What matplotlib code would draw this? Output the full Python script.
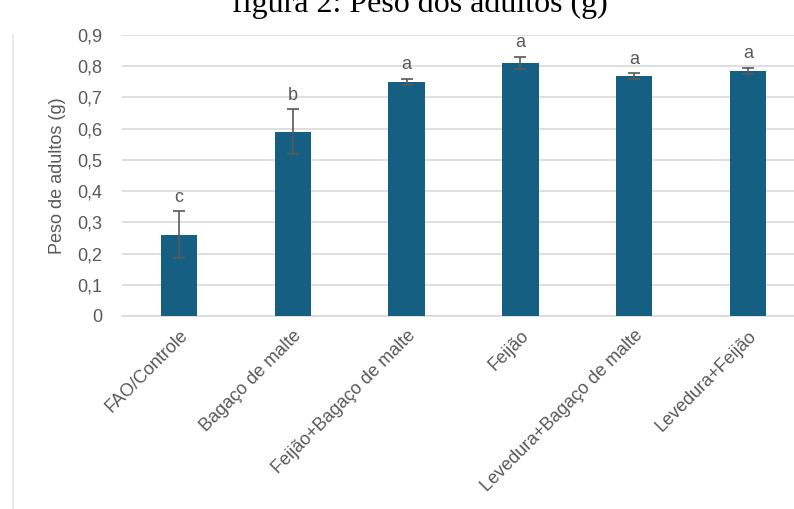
import matplotlib.pyplot as plt
from matplotlib.lines import Line2D

tratamentos = [
    "FAO/Controle",
    "Bagaço de malte",
    "Feijão+Bagaço de malte",
    "Feijão",
    "Levedura+Bagaço de malte",
    "Levedura+Feijão",
]
peso = [0.26, 0.59, 0.75, 0.81, 0.768, 0.785]
erro = [0.075, 0.072, 0.01, 0.02, 0.01, 0.01]
letras = ["c", "b", "a", "a", "a", "a"]

plt.rcParams['font.family'] = ['Liberation Sans Narrow', 'Liberation Sans', 'DejaVu Sans']
cinza = "#595959"

fig = plt.figure(figsize=(7.94, 5.09), dpi=100)
ax = fig.add_axes([122 / 794, 1 - 316 / 509, 683 / 794, 281 / 509])

x = range(len(tratamentos))
ax.bar(x, peso, width=0.32, color="#156082", zorder=3)
ax.errorbar(x, peso, yerr=erro, fmt="none", ecolor=cinza, elinewidth=1.2,
            capsize=4, capthick=1.2, zorder=4)

for i in x:
    ax.annotate(letras[i], (i, peso[i] + erro[i]), xytext=(0, 4),
                textcoords="offset points", ha="center", va="bottom",
                fontsize=13, color=cinza)

ax.set_xlim(-0.5, len(tratamentos) - 0.5)
ax.set_ylim(0, 0.9)
ax.set_yticks([i / 10 for i in range(10)])
ax.set_yticklabels(["0"] + ["0,%d" % i for i in range(1, 10)])
ax.set_xticks(list(x))
ax.set_xticklabels(tratamentos, rotation=45, ha="right", rotation_mode="anchor")
ax.tick_params(axis="both", length=0, labelsize=13, labelcolor=cinza)
ax.tick_params(axis="y", pad=14)
ax.tick_params(axis="x", pad=8)
ax.grid(axis="y", color="#d9d9d9", linewidth=1.2, zorder=0)
for s in ["top", "right", "left"]:
    ax.spines[s].set_visible(False)
ax.spines["bottom"].set_color("#d9d9d9")
ax.spines["bottom"].set_linewidth(1.2)

ax.set_ylabel("Peso de adultos (g)", fontsize=13, color=cinza)
ax.yaxis.set_label_coords(-56 / 683, 0.5)

# titulo cortado no topo e linha lateral
fig.text(0.529, 1 - 12 / 509, "figura 2: Peso dos adultos (g)", ha="center",
         va="baseline", fontsize=23, family="Liberation Serif", color="black")
fig.add_artist(Line2D([13 / 794, 13 / 794], [0, 1 - 35 / 509], color="#e6e6e6",
                      linewidth=1.2, transform=fig.transFigure))

fig.savefig("out.png", dpi=100)
